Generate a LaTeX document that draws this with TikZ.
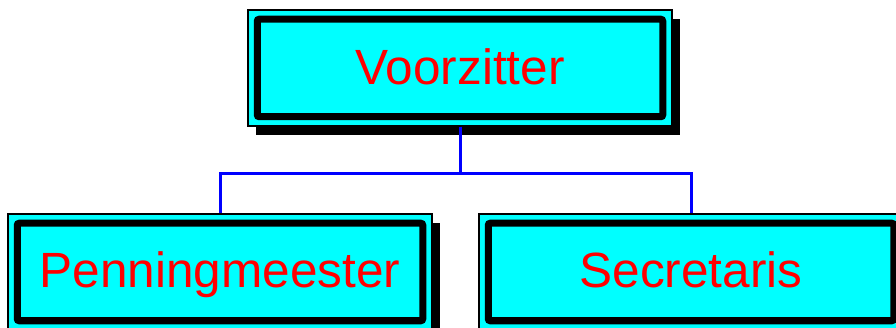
\documentclass[tikz,border=0pt]{standalone}
\usepackage{fontspec}
\setmainfont{Liberation Sans}
\usetikzlibrary{shadows}
\definecolor{boxfill}{RGB}{0,255,255}
\definecolor{labelred}{RGB}{255,0,0}
\definecolor{linkblue}{RGB}{0,0,255}
\tikzset{
  orgbox/.style={draw=black, line width=1.5pt, fill=boxfill,
    minimum width=424pt, minimum height=116pt, inner sep=0pt,
    drop shadow={shadow xshift=8pt, shadow yshift=-9pt, fill=black, opacity=1}},
  innerframe/.style={draw=black, line width=7pt, rounded corners=2pt},
  orglabel/.style={text=labelred, font=\fontsize{49.5pt}{50pt}\selectfont, anchor=base, inner sep=0pt},
  link/.style={draw=linkblue, line width=3pt}
}
\begin{document}
\begin{tikzpicture}[x=1pt, y=1pt]
  \useasboundingbox (0,0) rectangle (896,-328);
  \clip (0,0) rectangle (896,-328);

  % boxes
  \node[orgbox] (v) at (460,-68) {};
  \node[orgbox] (p) at (220,-272) {};
  \node[orgbox] (s) at (691,-272) {};

  % thick inner frames
  \foreach \b in {v,p,s}
    \draw[innerframe] ([shift={(10pt,-10pt)}]\b.north west) rectangle ([shift={(-10pt,10pt)}]\b.south east);

  % labels
  \node[orglabel] (vt) at ([yshift=-75pt]v.north) {Voorzitter};
  \node[orglabel] (pt) at ([yshift=-74pt]p.north) {Penningmeester};
  \node[orglabel] (st) at ([yshift=-74pt]s.north) {Secretaris};

  % connectors
  \coordinate (j) at ([yshift=-47pt]v.south);
  \draw[link] (v.south) -- (j);
  \draw[link] (p.north) |- (j) -| (s.north);
\end{tikzpicture}
\end{document}
